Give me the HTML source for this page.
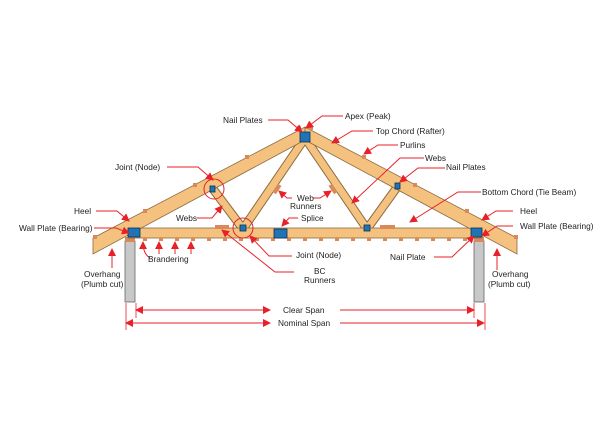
<!DOCTYPE html>
<html><head><meta charset="utf-8"><style>
html,body{margin:0;padding:0;background:#fff;}
svg{display:block;}
text{font-family:"Liberation Sans",sans-serif;font-size:8.3px;fill:#222;}
</style></head><body>
<svg width="612" height="441" viewBox="0 0 612 441" xmlns="http://www.w3.org/2000/svg">
<defs>
<marker id="a" markerWidth="8" markerHeight="8" refX="7" refY="4" orient="auto" markerUnits="userSpaceOnUse"><path d="M0,0 L8,4 L0,8 Z" fill="#e8202a"/></marker>
</defs>
<rect x="125" y="241" width="10" height="61" fill="#c8c8c8" stroke="#666" stroke-width="0.8"/>
<rect x="474" y="241" width="10" height="61" fill="#c8c8c8" stroke="#666" stroke-width="0.8"/>
<rect x="125" y="237" width="10" height="5" fill="#d98a5a"/>
<rect x="474" y="237" width="10" height="5" fill="#d98a5a"/>
<g stroke-linecap="butt">
<g stroke="#8a6a40" stroke-width="9">
<line x1="213" y1="189" x2="243" y2="229"/><line x1="243" y1="229" x2="305" y2="138"/>
<line x1="305" y1="138" x2="367" y2="229"/><line x1="367" y1="229" x2="398" y2="186"/>
</g>
<g stroke="#f4c27e" stroke-width="7">
<line x1="213" y1="189" x2="243" y2="229"/><line x1="243" y1="229" x2="305" y2="138"/>
<line x1="305" y1="138" x2="367" y2="229"/><line x1="367" y1="229" x2="398" y2="186"/>
</g>
</g>
<rect x="128" y="228" width="353" height="10" fill="#f4c27e" stroke="#8a6a40" stroke-width="0.8"/>
<polygon points="93,238 305,127 305,140 93,254" fill="#f4c27e" stroke="#8a6a40" stroke-width="0.8"/>
<polygon points="517,238 305,127 305,140 517,254" fill="#f4c27e" stroke="#8a6a40" stroke-width="0.8"/>
<g fill="#d98a5a">
<rect x="93" y="235" width="4" height="4"/><rect x="143" y="209" width="4" height="4"/><rect x="193" y="183" width="4" height="4"/><rect x="245" y="155" width="4" height="4"/><rect x="297" y="126" width="4" height="4"/><rect x="309" y="126" width="4" height="4"/>
<rect x="362" y="155" width="4" height="4"/><rect x="413" y="183" width="4" height="4"/><rect x="465" y="209" width="4" height="4"/><rect x="514" y="235" width="4" height="4"/>
</g>
<g fill="#d98a5a">
<rect x="143" y="238" width="4" height="3"/><rect x="159" y="238" width="4" height="3"/><rect x="175" y="238" width="4" height="3"/><rect x="191" y="238" width="4" height="3"/><rect x="207" y="238" width="4" height="3"/><rect x="223" y="238" width="4" height="3"/><rect x="239" y="238" width="4" height="3"/><rect x="255" y="238" width="4" height="3"/><rect x="271" y="238" width="4" height="3"/><rect x="287" y="238" width="4" height="3"/><rect x="303" y="238" width="4" height="3"/><rect x="319" y="238" width="4" height="3"/><rect x="335" y="238" width="4" height="3"/><rect x="351" y="238" width="4" height="3"/><rect x="367" y="238" width="4" height="3"/><rect x="383" y="238" width="4" height="3"/><rect x="399" y="238" width="4" height="3"/><rect x="415" y="238" width="4" height="3"/><rect x="431" y="238" width="4" height="3"/><rect x="447" y="238" width="4" height="3"/><rect x="463" y="238" width="4" height="3"/>
<rect x="215" y="225" width="14" height="4"/><rect x="380" y="225" width="15" height="4"/>
<rect x="275" y="184" width="4" height="10" transform="rotate(34 277 189)"/>
<rect x="331" y="184" width="4" height="10" transform="rotate(-34 333 189)"/>
</g>
<g fill="#1f73b7" stroke="#0c3050" stroke-width="0.8">
<rect x="128" y="228" width="12" height="9"/><rect x="471" y="228" width="11" height="9"/>
<rect x="300" y="132" width="10" height="10"/><rect x="274" y="229" width="13" height="9"/>
<rect x="240" y="225" width="6" height="6"/><rect x="364" y="225" width="6" height="6"/>
<rect x="210" y="186" width="5" height="6"/><rect x="395" y="183" width="5" height="6"/>
</g>
<circle cx="214" cy="189" r="10" fill="none" stroke="#e8202a" stroke-width="1"/>
<circle cx="243" cy="228" r="10" fill="none" stroke="#e8202a" stroke-width="1"/>
<g stroke="#e8202a" stroke-width="1" fill="none" marker-end="url(#a)">
<path d="M268,120 H288 L302,132"/>
<path d="M343,116 H322 L306,128"/>
<path d="M373,131 H352 L332,143"/>
<path d="M398,145 H378 L364,154"/>
<path d="M424,158 H400 L352,203"/>
<path d="M445,168 H418 L400,182"/>
<path d="M481,192 H458 L410,222"/>
<path d="M513,211 H496 L482,220"/>
<path d="M513,226 H497 L482,236"/>
<path d="M434,257 H452 L474,236"/>
<path d="M497,270 V249"/>
<path d="M167,167 H198 L213,180"/>
<path d="M96,211 H117 L129,221"/>
<path d="M94,228 H116 L129,233"/>
<path d="M112,268 V249"/>
<path d="M197,218 H212 L222,206"/>
<path d="M292,198 H287 L279,191"/>
<path d="M313,198 H320 L331,191"/>
<path d="M298,218 H289 L282,226"/>
<path d="M292,256 H269 L250,236"/>
<path d="M294,272 H275 L222,230"/>
<path d="M150,258 Q143,254 143,242"/>
<path d="M159,254 V242"/><path d="M175,254 V242"/><path d="M191,254 V242"/>
<path d="M136,310 H270"/><path d="M340,310 H474"/>
<path d="M126,323 H270"/><path d="M340,323 H484"/>
</g>
<path d="M270,310 H136" stroke="#e8202a" marker-end="url(#a)"/>
<path d="M270,323 H126" stroke="#e8202a" marker-end="url(#a)"/>
<g stroke="#e8202a" stroke-width="0.8">
<line x1="126" y1="303" x2="126" y2="330"/><line x1="136" y1="303" x2="136" y2="318"/>
<line x1="474" y1="303" x2="474" y2="318"/><line x1="485" y1="303" x2="485" y2="330"/>
</g>
<rect x="280" y="304" width="50" height="12" fill="#fff"/>
<rect x="275" y="317" width="60" height="12" fill="#fff"/>
<text x="223" y="123">Nail Plates</text>
<text x="345" y="119">Apex (Peak)</text>
<text x="376" y="134">Top Chord (Rafter)</text>
<text x="400" y="148">Purlins</text>
<text x="425" y="161">Webs</text>
<text x="446" y="170">Nail Plates</text>
<text x="482" y="195">Bottom Chord (Tie Beam)</text>
<text x="520" y="214">Heel</text>
<text x="520" y="229">Wall Plate (Bearing)</text>
<text x="390" y="260">Nail Plate</text>
<text x="492" y="277">Overhang</text>
<text x="488" y="287">(Plumb cut)</text>
<text x="115" y="170">Joint (Node)</text>
<text x="74" y="214">Heel</text>
<text x="19" y="231">Wall Plate (Bearing)</text>
<text x="84" y="277">Overhang</text>
<text x="81" y="287">(Plumb cut)</text>
<text x="148" y="262">Brandering</text>
<text x="176" y="221">Webs</text>
<text x="297" y="201">Web</text>
<text x="290" y="209">Runners</text>
<text x="301" y="221">Splice</text>
<text x="296" y="258">Joint (Node)</text>
<text x="314" y="274">BC</text>
<text x="304" y="283">Runners</text>
<text x="283" y="313">Clear Span</text>
<text x="278" y="326">Nominal Span</text>
</svg>
</body></html>
